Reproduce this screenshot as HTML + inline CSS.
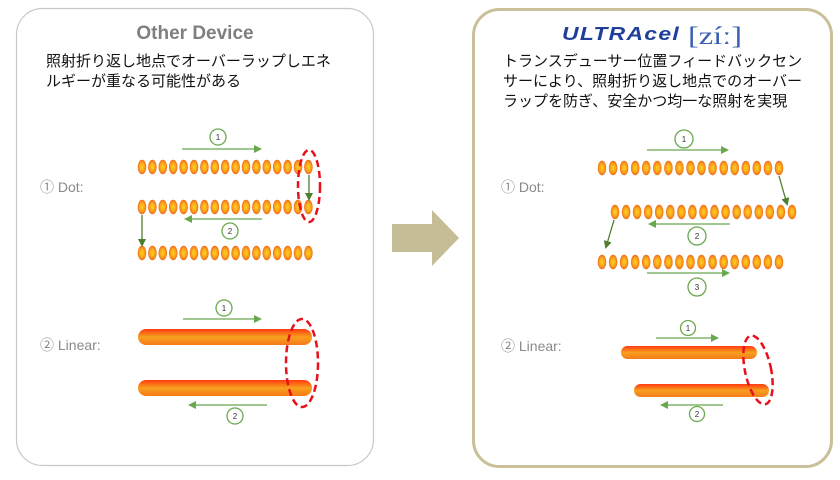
<!DOCTYPE html>
<html><head><meta charset="utf-8"><style>
body{margin:0;width:840px;height:480px;background:#fff;overflow:hidden}
svg{display:block}
.jp{font-family:"Liberation Sans","Noto Sans CJK JP",sans-serif;font-size:15px;fill:#111}
.lb{font-family:"Liberation Sans","Noto Sans CJK JP",sans-serif;font-size:14px;fill:#8a8a8a}
.n{font-family:"Liberation Sans",sans-serif;font-size:8px;fill:#333;text-anchor:middle}
</style></head><body>
<svg width="840" height="480" viewBox="0 0 840 480" xmlns:xlink="http://www.w3.org/1999/xlink">
<defs>
<radialGradient id="dg" cx="50%" cy="50%" r="50%"><stop offset="0" stop-color="#ffd21a"/><stop offset="0.6" stop-color="#f9a51d"/><stop offset="1" stop-color="#f06a1a"/></radialGradient>
<linearGradient id="bg" x1="0" y1="0" x2="0" y2="1"><stop offset="0" stop-color="#ff3a10"/><stop offset="0.5" stop-color="#f8a01e"/><stop offset="1" stop-color="#f57a1a"/></linearGradient>
<marker id="ah" markerWidth="8" markerHeight="8" refX="6" refY="4" orient="auto" markerUnits="userSpaceOnUse"><path d="M0,0 L8,4 L0,8z" fill="#6aa84f"/></marker>
<marker id="ad" markerWidth="8" markerHeight="8" refX="6" refY="4" orient="auto" markerUnits="userSpaceOnUse"><path d="M0,0 L8,4 L0,8z" fill="#4e7f2e"/></marker>
<ellipse id="d" cx="0" cy="0" rx="4.3" ry="7.2" fill="url(#dg)"/>
<g id="rowL">
<use href="#d" x="142"/><use href="#d" x="152.4"/><use href="#d" x="162.8"/><use href="#d" x="173.2"/><use href="#d" x="183.6"/><use href="#d" x="194"/><use href="#d" x="204.4"/><use href="#d" x="214.8"/><use href="#d" x="225.2"/><use href="#d" x="235.6"/><use href="#d" x="246"/><use href="#d" x="256.4"/><use href="#d" x="266.8"/><use href="#d" x="277.2"/><use href="#d" x="287.6"/><use href="#d" x="298"/><use href="#d" x="308.4"/>
</g>
<g id="rowR">
<use href="#d" x="602"/><use href="#d" x="613.1"/><use href="#d" x="624.1"/><use href="#d" x="635.2"/><use href="#d" x="646.2"/><use href="#d" x="657.3"/><use href="#d" x="668.4"/><use href="#d" x="679.4"/><use href="#d" x="690.5"/><use href="#d" x="701.5"/><use href="#d" x="712.6"/><use href="#d" x="723.7"/><use href="#d" x="734.7"/><use href="#d" x="745.8"/><use href="#d" x="756.8"/><use href="#d" x="767.9"/><use href="#d" x="779"/>
</g>
</defs>
<rect x="16.5" y="8.5" width="357" height="457" rx="26" fill="#fff" stroke="#c8c8c8" stroke-width="1.2"/>
<rect x="473.5" y="9.5" width="358" height="457" rx="26" fill="#fff" stroke="#c9bf98" stroke-width="3"/>
<path d="M392,224 L432,224 L432,210 L459,238 L432,266 L432,252 L392,252z" fill="#c5bd95"/>
<text x="195" y="39" text-anchor="middle" font-family="Liberation Sans,sans-serif" font-weight="bold" font-size="19" fill="#7f7f7f">Other Device</text>
<text class="jp" x="46" y="66">照射折り返し地点でオーバーラップしエネ</text>
<text class="jp" x="46" y="86">ルギーが重なる可能性がある</text>
<text x="562" y="40" font-family="Liberation Sans,sans-serif" font-weight="900" font-style="italic" font-size="18" letter-spacing="1" fill="#1f3f9a" textLength="118" lengthAdjust="spacingAndGlyphs">ULTRAcel</text>
<text x="688" y="44" font-family="Liberation Serif,serif" font-size="25" fill="#3b5fb3" textLength="54" lengthAdjust="spacingAndGlyphs">[zíː]</text>
<text class="jp" x="503" y="66">トランスデューサー位置フィードバックセン</text>
<text class="jp" x="503" y="86">サーにより、照射折り返し地点でのオーバー</text>
<text class="jp" x="503" y="106">ラップを防ぎ、安全かつ均一な照射を実現</text>
<text class="lb" x="40" y="192">① Dot:</text>
<text class="lb" x="40" y="350">② Linear:</text>
<text class="lb" x="501" y="192">① Dot:</text>
<text class="lb" x="501" y="351">② Linear:</text>
<use href="#rowL" y="167"/>
<use href="#rowL" y="207"/>
<use href="#rowL" y="253"/>
<use href="#rowR" y="168"/>
<use href="#rowR" x="13" y="212"/>
<use href="#rowR" y="262"/>
<line x1="182" y1="149" x2="260" y2="149" stroke="#6aa84f" stroke-width="1.3" marker-end="url(#ah)"/>
<circle cx="218" cy="137" r="8" fill="#fff" stroke="#6aa84f" stroke-width="1.3"/><text class="n" x="218" y="140">1</text>
<line x1="262" y1="219" x2="186" y2="219" stroke="#6aa84f" stroke-width="1.3" marker-end="url(#ah)"/>
<circle cx="230" cy="231" r="8" fill="#fff" stroke="#6aa84f" stroke-width="1.3"/><text class="n" x="230" y="234">2</text>
<line x1="309" y1="175" x2="309" y2="199" stroke="#4e7f2e" stroke-width="1.3" marker-end="url(#ad)"/>
<line x1="142" y1="215" x2="142" y2="245" stroke="#4e7f2e" stroke-width="1.3" marker-end="url(#ad)"/>
<ellipse cx="309" cy="186" rx="11" ry="36" fill="none" stroke="#e8101a" stroke-width="2.5" stroke-dasharray="7,4"/>
<line x1="647" y1="150" x2="727" y2="150" stroke="#6aa84f" stroke-width="1.3" marker-end="url(#ah)"/>
<circle cx="684" cy="139" r="9" fill="#fff" stroke="#6aa84f" stroke-width="1.3"/><text class="n" x="684" y="142">1</text>
<line x1="730" y1="224" x2="650" y2="224" stroke="#6aa84f" stroke-width="1.3" marker-end="url(#ah)"/>
<circle cx="697" cy="236" r="9" fill="#fff" stroke="#6aa84f" stroke-width="1.3"/><text class="n" x="697" y="239">2</text>
<line x1="647" y1="273" x2="728" y2="273" stroke="#6aa84f" stroke-width="1.3" marker-end="url(#ah)"/>
<circle cx="697" cy="287" r="9" fill="#fff" stroke="#6aa84f" stroke-width="1.3"/><text class="n" x="697" y="290">3</text>
<line x1="779" y1="176" x2="787" y2="204" stroke="#4e7f2e" stroke-width="1.3" marker-end="url(#ad)"/>
<line x1="614" y1="220" x2="606" y2="247" stroke="#4e7f2e" stroke-width="1.3" marker-end="url(#ad)"/>
<line x1="183" y1="319" x2="260" y2="319" stroke="#6aa84f" stroke-width="1.3" marker-end="url(#ah)"/>
<circle cx="224" cy="308" r="8" fill="#fff" stroke="#6aa84f" stroke-width="1.3"/><text class="n" x="224" y="311">1</text>
<rect x="138" y="329" width="174" height="16" rx="8" fill="url(#bg)"/>
<rect x="138" y="380" width="174" height="16" rx="8" fill="url(#bg)"/>
<line x1="267" y1="405" x2="190" y2="405" stroke="#6aa84f" stroke-width="1.3" marker-end="url(#ah)"/>
<circle cx="235" cy="416" r="8" fill="#fff" stroke="#6aa84f" stroke-width="1.3"/><text class="n" x="235" y="419">2</text>
<ellipse cx="302" cy="363" rx="16" ry="44" fill="none" stroke="#e8101a" stroke-width="2.5" stroke-dasharray="7,4"/>
<line x1="656" y1="338" x2="717" y2="338" stroke="#6aa84f" stroke-width="1.3" marker-end="url(#ah)"/>
<circle cx="688" cy="328" r="7.5" fill="#fff" stroke="#6aa84f" stroke-width="1.3"/><text class="n" x="688" y="331">1</text>
<rect x="621" y="346" width="136" height="13" rx="6.5" fill="url(#bg)"/>
<rect x="634" y="384" width="135" height="13" rx="6.5" fill="url(#bg)"/>
<line x1="723" y1="405" x2="662" y2="405" stroke="#6aa84f" stroke-width="1.3" marker-end="url(#ah)"/>
<circle cx="697" cy="414" r="7.5" fill="#fff" stroke="#6aa84f" stroke-width="1.3"/><text class="n" x="697" y="417">2</text>
<ellipse cx="758" cy="370" rx="13" ry="35" transform="rotate(-12 758 370)" fill="none" stroke="#e8101a" stroke-width="2.5" stroke-dasharray="7,4"/>
</svg>
</body></html>
